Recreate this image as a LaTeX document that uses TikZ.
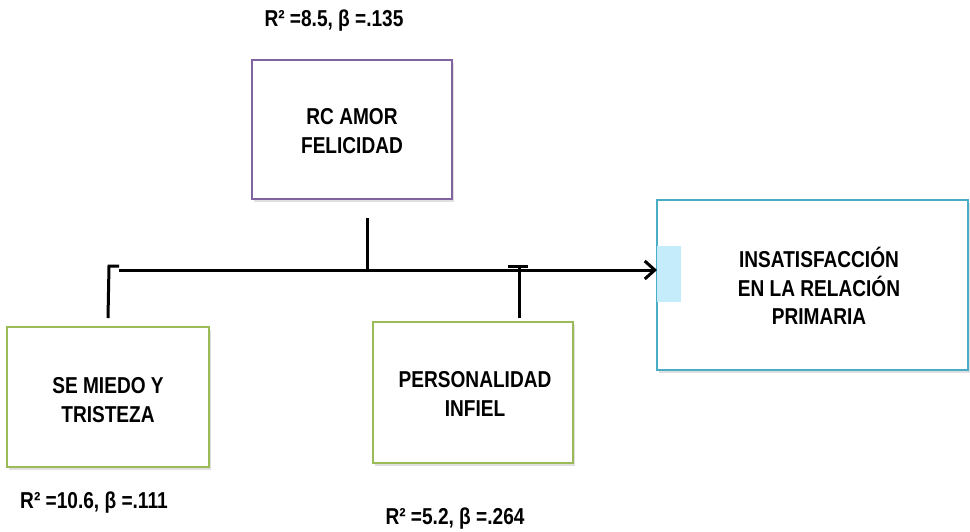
\documentclass[tikz,border=0pt]{standalone}
\usepackage{fontspec}
\setmainfont{Liberation Sans}[FakeStretch=0.83]
\usetikzlibrary{arrows.meta,shadows}
\definecolor{boxpurple}{RGB}{128,100,162}
\definecolor{boxgreen}{RGB}{155,187,89}
\definecolor{boxblue}{RGB}{75,172,198}
\definecolor{patchcyan}{RGB}{196,236,250}
\begin{document}
\begin{tikzpicture}[x=1pt,y=-1pt,
	box/.style={draw,line width=1.3pt,fill=white,inner sep=0,outer sep=0,
		drop shadow={shadow xshift=2pt,shadow yshift=-3pt,opacity=0.25}},
	txt/.style={font=\fontsize{23}{28.5}\selectfont\bfseries,align=center,inner sep=0},
	lnk/.style={line width=3pt}]
	\useasboundingbox (0,0) rectangle (970,531);
	\node[box,draw=boxpurple,minimum width=200,minimum height=139] (rc) at (352,129.5) {};
	\node[box,draw=boxgreen,minimum width=202,minimum height=140] (se) at (108,397) {};
	\node[box,draw=boxgreen,minimum width=200,minimum height=141] (pers) at (473,392.5) {};
	\node[box,draw=boxblue,minimum width=311,minimum height=170] (ins) at (812.5,285) {};
	\fill[patchcyan] (657,246) rectangle (681,302);
	\node[txt] (rct) at (352,131) {RC AMOR\\FELICIDAD};
	\node[txt] (set) at (108,400) {SE MIEDO Y\\TRISTEZA};
	\node[txt] (perst) at (475,394) {PERSONALIDAD\\INFIEL};
	\node[txt] (inst) at (819,286) {INSATISFACCIÓN\\EN LA RELACIÓN\\PRIMARIA};
	\node[txt] (r1) at (334,21) {R² =8.5, β =.135};
	\node[txt] (r2) at (94,503) {R² =10.6, β =.111};
	\node[txt] (r3) at (455,519) {R² =5.2, β =.264};
	\coordinate (c1) at (109,266);
	\coordinate (c2) at (119,266);
	\coordinate (c3) at (367,218);
	\coordinate (c4) at (367,270);
	\coordinate (c5) at (508,266);
	\coordinate (c6) at (528,266);
	\coordinate (c7) at (519,266);
	\coordinate (c8) at (519,318);
	\coordinate (c9) at (119,270);
	\coordinate (c10) at (657,270);
	\draw[lnk] ([yshift=9]se.north) -- (c1) -- (c2);
	\draw[lnk] (c3) -- (c4);
	\draw[lnk] (c5) -- (c6);
	\draw[lnk] (c7) -- (c8);
	\draw[lnk,-{Straight Barb[length=10,width=18]}] (c9) -- (c10);
\end{tikzpicture}
\end{document}
